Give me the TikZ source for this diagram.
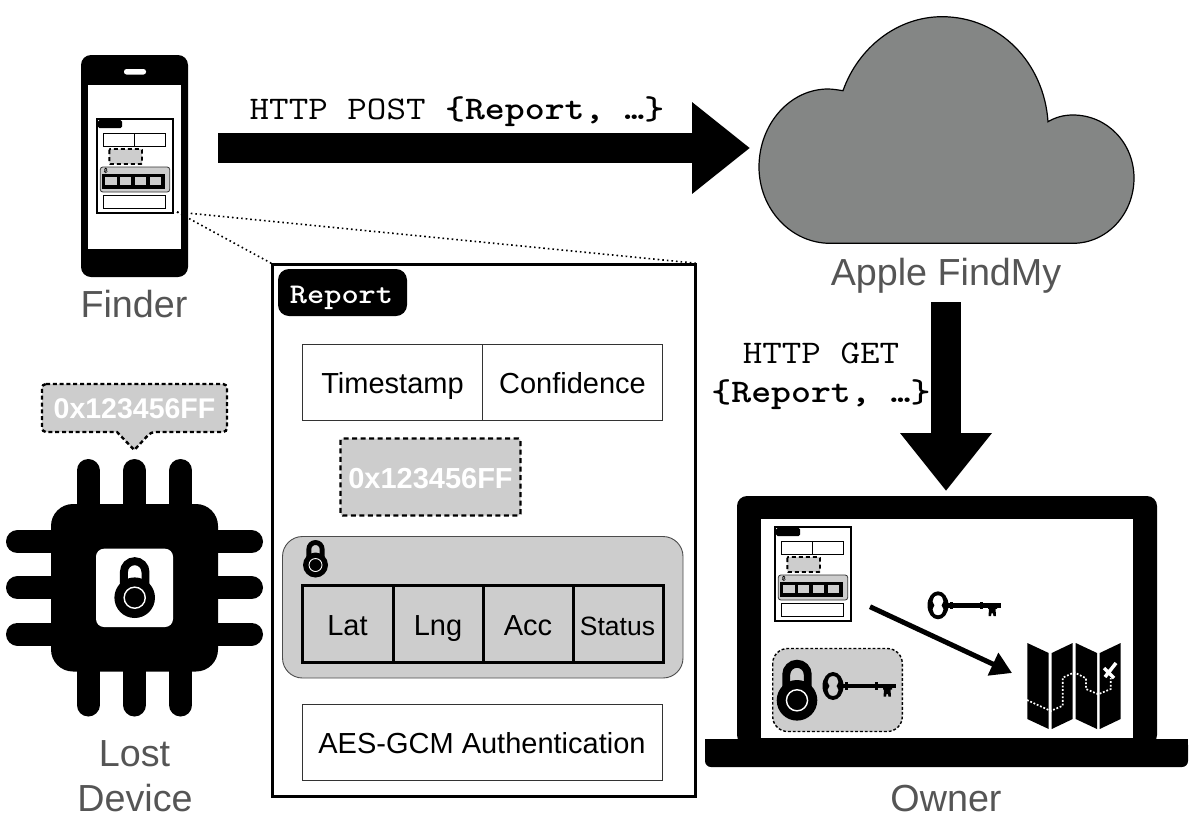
\documentclass[tikz,border=0pt]{standalone}
\usepackage{graphicx}
\usepackage{fontspec}
\setmainfont{Liberation Sans}
\usetikzlibrary{arrows.meta}
\definecolor{lg}{HTML}{CDCDCD}
\definecolor{cloudg}{HTML}{848685}
\definecolor{capg}{HTML}{555555}
\newcommand{\fs}[1]{\fontsize{#1}{#1}\selectfont}
\newcommand{\cour}[1]{\scalebox{1.15}[1]{\ttfamily\fs{33}#1}}
\tikzset{
  caption/.style={text=capg,font=\fs{37.7},align=center,inner sep=0pt,anchor=base},
  mono/.style={inner sep=0pt,align=center,anchor=base},
  cellt/.style={font=\fs{29},inner sep=0pt,anchor=base},
  hex/.style={font=\bfseries\fs{29},text=white,inner sep=0pt,anchor=base},
  bigarrow/.style={line width=30pt,-{Triangle[length=58pt,width=88pt]}},
}
% lock centred on body circle, #3 = body radius
\newcommand{\lock}[3]{%
 \begin{scope}[shift={(#1,#2)},scale=#3]
  \draw[black,line width=#3*0.39pt] (-0.53,-0.4) -- (-0.53,-1.27) arc[start angle=180,end angle=360,radius=0.53] -- (0.53,-0.4);
  \fill[black] (0,0) circle[radius=1];
  \draw[white,line width=#3*0.07pt] (0,0) circle[radius=0.52];
 \end{scope}}
% key: bow centre at x,y
\newcommand{\keyicon}[3]{%
 \begin{scope}[shift={(#1,#2)},scale=#3]
  \fill[black,even odd rule] (0,0) ellipse[x radius=10.5,y radius=14]
     (0,-10) .. controls (3.5,-10) and (5.5,-7) .. (5.5,-4) .. controls (5.5,-2) and (3.6,-1.5) .. (3.6,0) .. controls (3.6,1.5) and (5.5,2) .. (5.5,4) .. controls (5.5,7) and (3.5,10) .. (0,10) .. controls (-3.5,10) and (-5.5,7) .. (-5.5,4) .. controls (-5.5,2) and (-3.6,1.5) .. (-3.6,0) .. controls (-3.6,-1.5) and (-5.5,-2) .. (-5.5,-4) .. controls (-5.5,-7) and (-3.5,-10) .. (0,-10) -- cycle;
  \fill[black] (9,-2.3) rectangle (63,2.3);
  \fill[black] (12,-3.6) rectangle (14.5,3.6);
  \fill[black] (42,-3.6) rectangle (44.5,3.6);
  \fill[black] (50,0) -- (59,0) -- (59,3.5) -- (57.5,3.5) -- (58,10.7) -- (55.5,10.7) -- (55,8) -- (53.5,8) -- (53,10.7) -- (50.5,10.7) -- (51,3.5) -- (50,3.5) -- cycle;
 \end{scope}}
% miniature of the report, origin at box top left
\newcommand{\minireport}[2]{%
 \begin{scope}[shift={(#1,#2)}]
  \fill[white] (0,0) rectangle (76,94);
  \draw[black,line width=1.9pt] (0,0) rectangle (76,94);
  \fill[black,rounded corners=1.5pt] (1,1) rectangle (25,9);
  \draw[black,line width=0.9pt] (6.7,14.7) rectangle (68.3,27) (37,14.7) -- (37,27);
  \draw[black,fill=lg,line width=1.9pt,dash pattern=on 4pt off 3pt,rounded corners=1pt] (12.3,30) rectangle (45,45);
  \draw[black!80,fill=lg,line width=0.8pt,rounded corners=2.5pt] (3.3,48) rectangle (72.7,73);
  \fill[black] (5,54.7) rectangle (67.7,69.7);
  \foreach \q in {8.3,23,38,52.6}{\fill[lg] (\q,58.3) rectangle ++(11.4,8);}
  \lock{8.7}{52.4}{1.8}
  \draw[black,line width=0.9pt] (6.7,76.7) rectangle (68.3,89.7);
 \end{scope}}
\begin{document}
\begin{tikzpicture}[x=1pt,y=-1pt]
\useasboundingbox (0,0) rectangle (1204,833);
% ---- cloud
\draw[fill=cloudg,draw=black,line width=1.2pt]
 (830,243.3) .. controls (791,243.3) and (759,209) .. (759,167)
 .. controls (759,124) and (790,89) .. (828,89)
 .. controls (833,89) and (838,90) .. (843,90.7)
 .. controls (858,48) and (897,16.7) .. (942,16.7)
 .. controls (1000,16.7) and (1044,63) .. (1048,121.7)
 .. controls (1056,117) and (1064,115) .. (1073,115)
 .. controls (1107,115) and (1134,143) .. (1134,178)
 .. controls (1134,214) and (1107,243.3) .. (1073,243.3) -- cycle;
\node[caption] (cloudlabel) at (946,285) {Apple FindMy};
% ---- phone
\fill[black,rounded corners=10pt] (81,55) rectangle (188,277);
\fill[white] (88,85) rectangle (181,249);
\fill[white,rounded corners=2.5pt] (124,69) rectangle (146,74.5);
\minireport{97}{119}
\node[caption] (finder) at (134,317) {Finder};
% ---- report box
\node[draw=black,line width=2.4pt,fill=white,minimum width=423pt,minimum height=532pt,inner sep=0pt] (report) at (484,530.5) {};
\coordinate (src) at (177,212);
\draw[black,line width=1.6pt,dash pattern=on 1.6pt off 3pt] (src) -- (report.north west);
\draw[black,line width=1.6pt,dash pattern=on 1.6pt off 3pt] (src) -- (report.north east);
\node[fill=black,rounded corners=11pt,minimum width=129pt,minimum height=47pt,inner sep=0pt] (tag) at (342.5,292.5) {};
\node[text=white,inner sep=0pt,anchor=base] (tagt) at (341.5,303) {\scalebox{1.15}[1]{\ttfamily\bfseries\fs{28.5}Report}};
\draw[black!80,line width=0.9pt] (302.5,344) rectangle (662.5,420.7);
\draw[black!80,line width=0.9pt] (482.5,344) -- (482.5,420.7);
\node[cellt] (ts) at (392.5,393) {Timestamp};
\node[cellt] (co) at (572.5,393) {Confidence};
\node[draw=black,fill=lg,line width=2.4pt,dash pattern=on 5pt off 3.5pt,rounded corners=2pt,minimum width=180pt,minimum height=77pt,inner sep=0pt] (hexbox) at (430.5,477) {};
\node[hex] (hext) at (430.5,488) {0x123456FF};
\draw[black!70,fill=lg,line width=0.9pt,rounded corners=20pt] (282.5,536.5) rectangle (683,678);
\draw[black,line width=3pt] (302.5,585) rectangle (663,662);
\foreach \q in {393,483,573}{\draw[black,line width=3pt] (\q,585) -- (\q,662);}
\node[cellt] (lat) at (347.5,635) {Lat};
\node[cellt] (lng) at (438,635) {Lng};
\node[cellt] (acc) at (528,635) {Acc};
\node[cellt,font=\fs{26.5}] (st) at (617.5,635) {Status};
\lock{315.5}{565}{12.5}
\draw[black!80,line width=0.9pt] (302.5,704) rectangle (662.5,780);
\node[cellt] (auth) at (482,753) {AES-GCM Authentication};
% ---- arrows
\coordinate (a1s) at (218,148);
\coordinate (a1e) at (750,148);
\draw[bigarrow] (a1s) -- (a1e);
\node[mono] (post) at (457,119) {\cour{HTTP POST \textbf{\{Report, …\}}}};
\coordinate (a2s) at (946,302);
\coordinate (a2e) at (946,491);
\draw[bigarrow] (a2s) -- (a2e);
\node[mono] (get1) at (821,363) {\cour{HTTP GET}};
\node[mono] (get2) at (821,402) {\cour{\textbf{\{Report, …\}}}};
% ---- chip
\foreach \q in {88,134.5,180.7}{\draw[black,line width=23pt,line cap=round] (\q,470.5) -- (\q,705);}
\foreach \q in {541.7,587.7,634}{\draw[black,line width=23pt,line cap=round] (17.5,\q) -- (251.5,\q);}
\fill[black,rounded corners=22pt] (51,504) rectangle (218,671.5);
\fill[white,rounded corners=8pt] (96,548.7) rectangle (173,627);
\lock{134.7}{597.7}{20.3}
\node[caption] (lost) at (134.5,766.5) {Lost};
\node[caption] (device) at (135,811.5) {Device};
% ---- callout
\draw[black,fill=lg,line width=2.4pt,dash pattern=on 4pt off 2.8pt,rounded corners=4pt]
  (42,384) -- (227,384) -- (227,432) -- (151,432) [sharp corners] -- (134.3,450) -- (117,432) [rounded corners=4pt] -- (42,432) -- cycle;
\node[hex,font=\bfseries\fs{28.5}] (devhex) at (134.5,418) {0x123456FF};
% ---- laptop
\fill[black,rounded corners=10pt] (737,496) rectangle (1157,745);
\fill[white] (761,519) rectangle (1133,738);
\fill[black,rounded corners=6pt] (705,739) -- (1188,739) -- (1188,767) -- (705,767) -- cycle;
\fill[black] (705,739) rectangle (1188,750);
\minireport{775}{527}
\node[caption] (owner) at (946,811) {Owner};
% key group
\draw[black,fill=lg,line width=1.4pt,dash pattern=on 2.8pt off 2pt,rounded corners=15pt] (772.7,648.5) rectangle (902.3,731.5);
\lock{797}{700.3}{20.3}
\keyicon{833}{686}{1}
\keyicon{938}{605.3}{1}
% inner arrow
\coordinate (ia) at (870,606.7);
\coordinate (ib) at (1012,673);
\draw[black,line width=5pt,-{Triangle[length=21pt,width=24pt]}] (ia) -- (ib);
% map
\fill[black] (1027.3,643) -- (1048.7,653) -- (1048.7,729) -- (1027.3,719) -- cycle;
\fill[black] (1051.7,653) -- (1072.7,643) -- (1072.7,719) -- (1051.7,729) -- cycle;
\fill[black] (1075.7,643) -- (1097,653) -- (1097,729) -- (1075.7,719) -- cycle;
\fill[black] (1099.7,653) -- (1120.7,643) -- (1120.7,719) -- (1099.7,729) -- cycle;
\draw[white,line width=1.7pt,dash pattern=on 1.8pt off 1.8pt] (1027,700) -- (1050.7,711) -- (1062.7,705.7) -- (1062.7,677.7) -- (1074.3,672.3) -- (1086,678.3) -- (1086,689) -- (1098.3,694.3) -- (1110.7,689) -- (1110.7,678);
\draw[white,line width=3.5pt] (1104,668) -- (1114,678) (1116,663) -- (1105,677);
\end{tikzpicture}
\end{document}
